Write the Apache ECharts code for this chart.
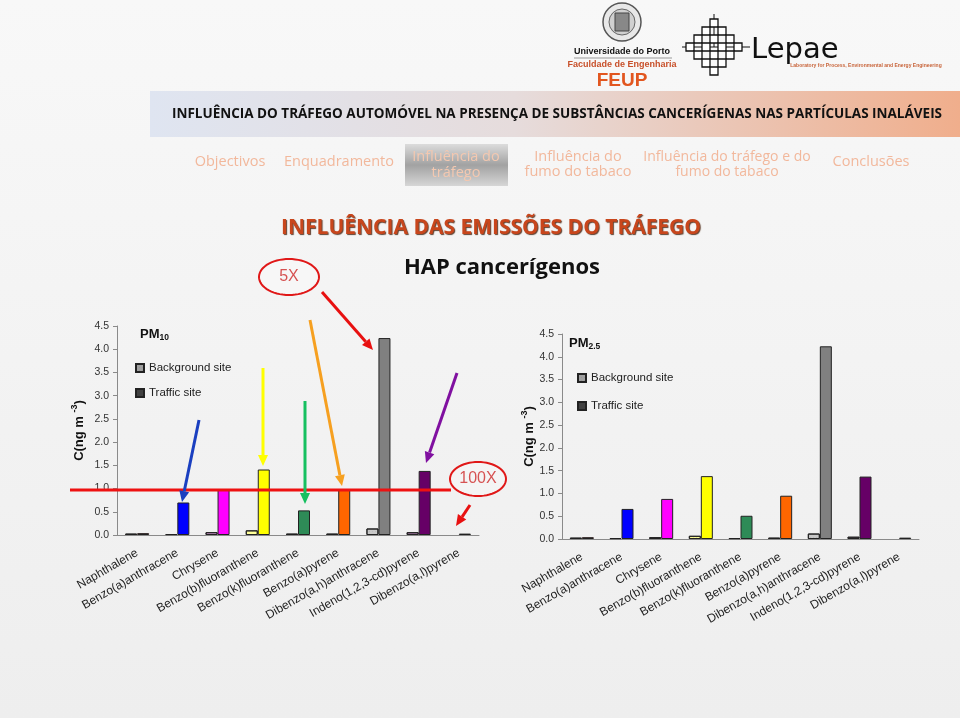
<!DOCTYPE html>
<html>
<head>
<meta charset="utf-8">
<title>HAP cancerígenos</title>
<script src="https://cdn.jsdelivr.net/npm/echarts@6/dist/echarts.min.js"></script>
<style>
  html, body { margin: 0; padding: 0; }
  #main { width: 960px; height: 718px; background: linear-gradient(#f8f8f8, #eeeeee); }
</style>
</head>
<body>
<div id="main"></div>
<script>
// dados (ng m-3)
const categories = ['Naphthalene', 'Benzo(a)anthracene', 'Chrysene', 'Benzo(b)fluoranthene', 'Benzo(k)fluoranthene',
  'Benzo(a)pyrene', 'Dibenzo(a,h)anthracene', 'Indeno(1,2,3-cd)pyrene', 'Dibenzo(a,l)pyrene'];
const pm10Background = [0.03, 0.02, 0.06, 0.10, 0.03, 0.03, 0.14, 0.06, '-'];
const pm10Traffic = [0.04, 0.70, 0.97, 1.41, 0.53, 0.97, 4.24, 1.38, 0.03];
const pm25Background = [0.03, 0.02, 0.04, 0.07, 0.02, 0.03, 0.12, 0.05, '-'];
const pm25Traffic = [0.04, 0.66, 0.88, 1.38, 0.51, 0.95, 4.23, 1.37, 0.03];
const trafficColors = ['#cc2222', '#0000ff', '#ff00ff', '#ffff00', '#2e8b57', '#ff6600', '#808080', '#660066', '#222222'];
const backgroundColors = ['#d88080', '#223355', '#e0a0e0', '#ffff99', '#446655', '#995533', '#c8c8c8', '#b080b0', '#999999'];
const yLabels = ['0.0', '0.5', '1.0', '1.5', '2.0', '2.5', '3.0', '3.5', '4.0', '4.5'];

const font = '"Liberation Sans", Arial, sans-serif';
const slideFont = '"Open Sans", sans-serif';

function barData(values, colors) {
  return values.map((v, i) => v === '-' ? '-' : { value: v, itemStyle: { color: colors[i] } });
}

function ellipse(cx, cy, rx, ry) {
  let pts = [];
  for (let i = 0; i < 60; i++) {
    let a = i / 60 * Math.PI * 2;
    pts.push([cx + rx * Math.cos(a), cy + ry * Math.sin(a)]);
  }
  return { type: 'polygon', shape: { points: pts }, style: { fill: 'rgba(255,255,255,0.25)', stroke: '#e01818', lineWidth: 2 }, z: 100 };
}

function arrow(x1, y1, x2, y2, color) {
  const ang = Math.atan2(y2 - y1, x2 - x1);
  const len = 11, half = 5;
  const bx = x2 - len * Math.cos(ang), by = y2 - len * Math.sin(ang);
  const px = -Math.sin(ang) * half, py = Math.cos(ang) * half;
  return [
    { type: 'line', shape: { x1: x1, y1: y1, x2: bx, y2: by }, style: { stroke: color, lineWidth: 3 }, z: 100 },
    { type: 'polygon', shape: { points: [[x2, y2], [bx + px, by + py], [bx - px, by - py]] }, style: { fill: color }, z: 100 }
  ];
}

function txt(x, y, text, size, color, weight, family, align) {
  return { type: 'text', x: x, y: y, z: 50, style: { text: text, fontSize: size, fill: color, fontWeight: weight || 'normal',
    fontFamily: family || slideFont, textAlign: align || 'center', textVerticalAlign: 'middle' } };
}

// logo lepae (losango de quadrados)
let lepaeSquares = [];
for (let r = 0; r < 7; r++) {
  let n = 4 - Math.abs(r - 3);
  for (let k = 0; k < n; k++) {
    let cx = 714 + (k - (n - 1) / 2) * 16;
    let cy = 23 + r * 8;
    lepaeSquares.push({ type: 'rect', shape: { x: cx - 4, y: cy - 4, width: 8, height: 8 },
      style: { fill: '#fff', stroke: '#111', lineWidth: 1.3 }, z: 52 });
  }
}

const navColor = '#f2b89c';
let graphics = [
  // barra do título
  { type: 'rect', shape: { x: 150, y: 91, width: 810, height: 46 }, z: 1,
    style: { fill: new echarts.graphic.LinearGradient(0, 0, 1, 0, [
      { offset: 0, color: '#dfe5f1' }, { offset: 0.45, color: '#e6dcdc' }, { offset: 1, color: '#f0ae8c' }]) } },
  txt(557, 114, 'INFLUÊNCIA DO TRÁFEGO AUTOMÓVEL NA PRESENÇA DE SUBSTÂNCIAS CANCERÍGENAS NAS PARTÍCULAS INALÁVEIS', 13.5, '#111', 'bold'),
  // separador activo
  { type: 'rect', shape: { x: 405, y: 144, width: 103, height: 42 }, z: 1,
    style: { fill: new echarts.graphic.LinearGradient(0, 0, 0, 1, [
      { offset: 0, color: '#dcdcdc' }, { offset: 0.5, color: '#a2a2a2' }, { offset: 1, color: '#d6d6d6' }]) } },
  txt(230, 162, 'Objectivos', 14.5, navColor),
  txt(339, 162, 'Enquadramento', 14.5, navColor),
  txt(456, 157, 'Influência do', 14.5, '#f4c8b0'),
  txt(456, 173, 'tráfego', 14.5, '#f4c8b0'),
  txt(578, 157, 'Influência do', 14.5, navColor),
  txt(578, 172, 'fumo do tabaco', 14.5, navColor),
  txt(727, 157, 'Influência do tráfego e do', 14, navColor),
  txt(727, 172, 'fumo do tabaco', 14, navColor),
  txt(871, 162, 'Conclusões', 14.5, navColor),
  // títulos
  { type: 'text', x: 491, y: 228, z: 50, style: { text: 'INFLUÊNCIA DAS EMISSÕES DO TRÁFEGO', fontSize: 21, fontWeight: 'bold',
    fontFamily: slideFont, fill: '#c8461c', textAlign: 'center', textVerticalAlign: 'middle',
    textShadowColor: 'rgba(60,20,0,0.8)', textShadowBlur: 1, textShadowOffsetX: 1, textShadowOffsetY: 1 } },
  txt(502, 268, 'HAP cancerígenos', 22, '#111', 'bold'),
  // logo U.Porto
  { type: 'circle', shape: { cx: 622, cy: 22, r: 19 }, style: { fill: '#e8e8e8', stroke: '#555', lineWidth: 1.5 }, z: 50 },
  { type: 'circle', shape: { cx: 622, cy: 22, r: 13 }, style: { fill: '#d0d0d0', stroke: '#666', lineWidth: 1 }, z: 51 },
  { type: 'rect', shape: { x: 615, y: 13, width: 14, height: 18 }, style: { fill: '#888', stroke: '#444', lineWidth: 1 }, z: 52 },
  txt(622, 52, 'Universidade do Porto', 9, '#111', 'bold', font),
  { type: 'line', shape: { x1: 574, y1: 58, x2: 672, y2: 58 }, style: { stroke: '#999', lineWidth: 1 }, z: 50 },
  txt(622, 65, 'Faculdade de Engenharia', 9, '#c8502a', 'bold', font),
  txt(622, 81, 'FEUP', 19, '#e2561f', 'bold', font),
  // logo lepae
  { type: 'line', shape: { x1: 682, y1: 47, x2: 750, y2: 47 }, style: { stroke: '#111', lineWidth: 1 }, z: 51 },
  { type: 'line', shape: { x1: 714, y1: 14, x2: 714, y2: 47 }, style: { stroke: '#111', lineWidth: 1 }, z: 51 }
].concat(lepaeSquares).concat([
  txt(751, 50, 'Lepae', 29, '#111', 'normal', '"DejaVu Sans", sans-serif', 'left'),
  txt(866, 66, 'Laboratory for Process, Environmental and Energy Engineering', 5, '#c8643a', 'bold', font),
  // anotações
  ellipse(289, 277, 30, 18),
  txt(289, 277, '5X', 16, '#c81818', 'normal', font),
  ellipse(478, 479, 28, 17),
  txt(478, 479, '100X', 16, '#c81818', 'normal', font),
  { type: 'line', shape: { x1: 70, y1: 490, x2: 451, y2: 490 }, style: { stroke: '#ee1111', lineWidth: 3 }, z: 99 }
]).concat(
  arrow(322, 292, 373, 350, '#e81010'),
  arrow(199, 420, 182, 502, '#1a3fc0'),
  arrow(263, 368, 263, 466, '#ffff00'),
  arrow(305, 401, 305, 504, '#16c060'),
  arrow(310, 320, 342, 486, '#f6a020'),
  arrow(457, 373, 426, 463, '#8010a0'),
  arrow(470, 505, 456, 526, '#e81010')
);

const axisColor = '#8a8a8a';
const nameRich = {
  t: { fontSize: 13, fontWeight: 'bold', fontFamily: font, color: '#111' },
  s: { fontSize: 9, fontWeight: 'bold', fontFamily: font, color: '#111', padding: [0, 0, 9, 0] }
};

function xAxisFor(idx) {
  return {
    gridIndex: idx, type: 'category', data: categories,
    axisLine: { lineStyle: { color: axisColor } },
    axisTick: { length: 4, lineStyle: { color: axisColor } },
    axisLabel: { interval: 0, rotate: 30, fontSize: 12, color: '#222', margin: 17, fontFamily: font }
  };
}

function yAxisFor(idx, gap) {
  return {
    gridIndex: idx, type: 'value', min: 0, max: 4.5, interval: 0.5,
    name: '{t|C(ng m }{s|-3}{t|)}', nameLocation: 'middle', nameRotate: 90, nameGap: gap,
    nameTextStyle: { rich: nameRich },
    axisLine: { show: true, lineStyle: { color: axisColor } },
    axisTick: { show: true, length: 4, lineStyle: { color: axisColor } },
    splitLine: { show: false },
    axisLabel: { fontSize: 10.5, color: '#333', margin: 8, fontFamily: font, formatter: (v) => yLabels[Math.round(v / 0.5)] }
  };
}

function seriesFor(idx, name, values, colors, base, decal) {
  let s = {
    name: name, type: 'bar', xAxisIndex: idx, yAxisIndex: idx,
    barWidth: 12, barGap: '0%',
    itemStyle: { color: base, borderColor: '#222', borderWidth: 1 },
    emphasis: { disabled: true },
    data: barData(values, colors)
  };
  if (decal) s.itemStyle.decal = { symbol: 'rect', symbolSize: 0.6, color: 'rgba(0,0,0,0.22)', dashArrayX: [1, 2], dashArrayY: [1, 2] };
  return s;
}

const titleRich = {
  m: { fontSize: 13, fontWeight: 'bold', fontFamily: font, color: '#111' },
  s: { fontSize: 8.5, fontWeight: 'bold', fontFamily: font, color: '#111', padding: [7, 0, 0, 0] }
};

let option = {
  animation: false,
  textStyle: { fontFamily: font },
  title: [
    { text: '{m|PM}{s|10}', left: 135, top: 321, textStyle: { rich: titleRich } },
    { text: '{m|PM}{s|2.5}', left: 564, top: 330, textStyle: { rich: titleRich } }
  ],
  legend: [
    { left: 130, top: 357, orient: 'vertical', itemWidth: 8, itemHeight: 8, itemGap: 13, selectedMode: false, icon: 'rect',
      data: ['Background site', 'Traffic site'], textStyle: { fontSize: 11.5, color: '#222', fontFamily: font } },
    { left: 572, top: 367, orient: 'vertical', itemWidth: 8, itemHeight: 8, itemGap: 16, selectedMode: false, icon: 'rect',
      data: ['Background site', 'Traffic site'], textStyle: { fontSize: 11.5, color: '#222', fontFamily: font } }
  ],
  grid: [
    { left: 117, right: 481, top: 326, bottom: 183, outerBoundsMode: 'none' },
    { left: 562, right: 41, top: 334, bottom: 179, outerBoundsMode: 'none' }
  ],
  xAxis: [xAxisFor(0), xAxisFor(1)],
  yAxis: [yAxisFor(0, 29), yAxisFor(1, 24)],
  series: [
    seriesFor(0, 'Background site', pm10Background, backgroundColors, '#a0a0a0', true),
    seriesFor(0, 'Traffic site', pm10Traffic, trafficColors, '#404040', false),
    seriesFor(1, 'Background site', pm25Background, backgroundColors, '#a0a0a0', true),
    seriesFor(1, 'Traffic site', pm25Traffic, trafficColors, '#404040', false)
  ],
  graphic: graphics
};

let myChart = echarts.init(document.getElementById('main'));
myChart.setOption(option);
</script>
</body>
</html>
